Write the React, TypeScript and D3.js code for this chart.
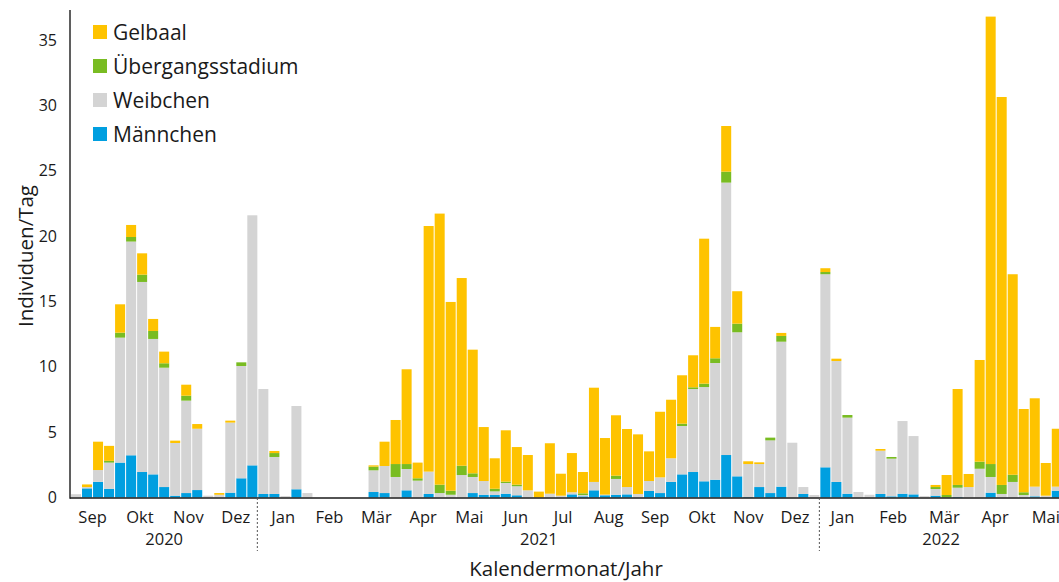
import React from "react";
import * as d3 from "d3";

// Weekly catch counts (individuals per day), one entry per week, Sep 2020 – Mai 2022
const maennchen = [
  0, 0.7, 1.2, 0.67, 2.67, 3.23, 1.95, 1.77, 0.8, 0.14,
  0.34, 0.57, 0, 0, 0.37, 1.47, 2.46, 0.27, 0.27, 0,
  0.63, 0, 0, 0, 0, 0, 0, 0.42, 0.34, 0,
  0.55, 0, 0.27, 0, 0, 0, 0.34, 0.21, 0.19, 0.29,
  0.17, 0, 0, 0, 0, 0.24, 0.09, 0.55, 0.17, 0.21,
  0.24, 0, 0.5, 0.34, 1.19, 1.77, 1.95, 1.24, 1.36, 3.25,
  1.62, 0.04, 0.8, 0.34, 0.83, 0, 0.27, 0, 2.31, 1.19,
  0.29, 0, 0, 0.27, 0.09, 0.29, 0.24, 0, 0.14, 0,
  0.04, 0, 0, 0.37, 0, 0, 0, 0.09, 0, 0.52,
];
const weibchen = [
  0.25, 0.1, 0.9, 2.0, 9.56, 16.35, 14.54, 10.36, 9.13, 4.03,
  7.07, 4.69, 0.14, 0.21, 5.36, 8.59, 19.13, 8.03, 2.83, 0.11,
  6.37, 0.34, 0, 0, 0, 0, 0, 1.66, 2.07, 1.57,
  1.63, 1.29, 1.71, 0.34, 0.21, 1.72, 1.23, 1.05, 0.28, 0.82,
  0.69, 0.55, 0, 0.29, 0.14, 0.16, 0.1, 0.64, 0.05, 1.21,
  0.56, 0.27, 0.76, 1.2, 1.81, 3.7, 6.35, 7.21, 8.93, 20.84,
  11.02, 2.52, 1.76, 4.03, 11.09, 4.19, 0.53, 0.19, 14.77, 9.25,
  5.82, 0.42, 0.21, 3.31, 2.88, 5.56, 4.46, 0.11, 0.51, 0,
  0.71, 0.8, 2.2, 1.2, 0.27, 1.19, 0.19, 0.74, 0.14, 0.31,
];
const uebergang = [
  0, 0, 0, 0.13, 0.38, 0.35, 0.56, 0.61, 0.34, 0,
  0.38, 0, 0, 0, 0, 0.28, 0, 0, 0.3, 0,
  0, 0, 0, 0, 0, 0, 0, 0.28, 0, 0.99,
  0.38, 0.18, 0, 0.64, 0.31, 0.71, 0.28, 0, 0.2, 0.1,
  0.12, 0, 0, 0, 0, 0, 0.13, 0, 0, 0.25,
  0, 0, 0, 0, 0, 0.18, 0.13, 0.26, 0.36, 0.84,
  0.66, 0, 0, 0.21, 0.44, 0, 0, 0, 0.17, 0,
  0.2, 0, 0, 0, 0.13, 0, 0, 0, 0.15, 0.19,
  0.21, 0, 0.54, 0.99, 0.69, 0.55, 0.21, 0, 0, 0,
];
const gelbaal = [
  0, 0.2, 2.17, 1.15, 2.17, 0.92, 1.63, 0.92, 0.89, 0.18,
  0.84, 0.36, 0, 0.13, 0.15, 0, 0, 0, 0.16, 0,
  0, 0, 0, 0, 0, 0, 0, 0.1, 1.86, 3.37,
  7.25, 1.2, 18.79, 20.74, 14.44, 14.36, 9.46, 4.13, 2.33, 3.93,
  2.88, 2.7, 0.45, 3.86, 1.68, 3.0, 1.63, 7.21, 4.33, 4.62,
  4.44, 4.56, 2.27, 5.02, 4.48, 3.7, 2.45, 11.09, 2.4, 3.49,
  2.48, 0.21, 0.13, 0, 0.23, 0, 0, 0, 0.29, 0.18,
  0, 0, 0, 0.13, 0, 0, 0, 0, 0.16, 1.53,
  7.34, 1.0, 7.78, 34.23, 29.68, 15.34, 6.37, 6.76, 2.5, 4.43,
];

// Series in stacking order (bottom to top)
const seriesKeys = ["maennchen", "weibchen", "uebergang", "gelbaal"];
const seriesNames: Record<string, string> = {
  maennchen: "Männchen",
  weibchen: "Weibchen",
  uebergang: "Übergangsstadium",
  gelbaal: "Gelbaal",
};
const seriesColors: Record<string, string> = {
  maennchen: "#009FE0",
  weibchen: "#D4D4D4",
  uebergang: "#79BC22",
  gelbaal: "#FEC300",
};
const legendOrder = ["gelbaal", "uebergang", "weibchen", "maennchen"];

// Month labels, positioned in week units along the bar axis
const monthLabels = [
  "Sep", "Okt", "Nov", "Dez",
  "Jan", "Feb", "Mär", "Apr", "Mai", "Jun", "Jul", "Aug", "Sep", "Okt", "Nov", "Dez",
  "Jan", "Feb", "Mär", "Apr", "Mai",
];
const monthWeekPos = [
  2.0, 6.3, 10.7, 15.0,
  19.3, 23.5, 27.75, 32.0, 36.2, 40.4, 44.7, 48.85, 53.05, 57.3, 61.5, 65.75,
  70.05, 74.65, 79.3, 83.9, 88.5,
];
// Year spans in week units
const yearLabels = ["2020", "2021", "2022"];
const yearStart = [0, 17, 68];
const yearEnd = [17, 68, 90];

const yTicks = [0, 5, 10, 15, 20, 25, 30, 35];

const W = 1059;
const H = 582;
const FONT = "'Open Sans', 'Noto Sans', sans-serif";

export default function App() {
  const n = gelbaal.length;
  const rows = d3.range(n).map((i) => ({
    maennchen: maennchen[i],
    weibchen: weibchen[i],
    uebergang: uebergang[i],
    gelbaal: gelbaal[i],
  }));
  const stacked = d3.stack<any>().keys(seriesKeys)(rows);

  const x = d3.scaleLinear().domain([0, 90]).range([70.5, 1062.3]);
  const y = d3.scaleLinear().domain([0, 35]).range([497.5, 40]);
  const axisY = 498;
  const axisX = 70;

  return (
    <div style={{ position: "fixed", left: 0, top: 0 }}>
      <svg width={W} height={H} style={{ display: "block", background: "#fff" }} fontFamily={FONT}>
        {/* stacked weekly bars */}
        {stacked.map((layer) => (
          <g key={layer.key} fill={seriesColors[layer.key]}>
            {layer.map((d, i) => {
              const h = y(d[0]) - y(d[1]);
              if (h <= 0) return null;
              return (
                <rect
                  key={i}
                  x={x(i) + 0.5}
                  width={x(i + 1) - x(i) - 1}
                  y={y(d[1])}
                  height={h}
                />
              );
            })}
          </g>
        ))}

        {/* axes */}
        <line x1={axisX} x2={W} y1={axisY} y2={axisY} stroke="#1a1a1a" strokeWidth={1.6} />
        <line x1={axisX} x2={axisX} y1={10} y2={axisY + 0.8} stroke="#1a1a1a" strokeWidth={1.4} />

        {yTicks.map((t) => (
          <text key={t} x={57} y={y(t)} dy="0.35em" textAnchor="end" fontSize={16} fill="#1a1a1a">
            {t}
          </text>
        ))}

        {monthLabels.map((m, i) => (
          <text key={i} x={x(monthWeekPos[i])} y={523} textAnchor="middle" fontSize={16.5} fill="#1a1a1a">
            {m}
          </text>
        ))}

        {yearLabels.map((yl, i) => (
          <text
            key={yl}
            x={(x(yearStart[i]) + x(yearEnd[i])) / 2}
            y={545}
            textAnchor="middle"
            fontSize={16.5}
            fill="#1a1a1a"
          >
            {yl}
          </text>
        ))}

        {/* year separators */}
        {yearStart.slice(1).map((w) => (
          <line
            key={w}
            x1={x(w) - 0.5}
            x2={x(w) - 0.5}
            y1={axisY}
            y2={551}
            stroke="#555"
            strokeWidth={1}
            strokeDasharray="2,2"
          />
        ))}

        {/* axis titles */}
        <text x={566} y={576} textAnchor="middle" fontSize={20.5} fill="#1a1a1a">
          Kalendermonat/Jahr
        </text>
        <text
          transform={`translate(33,${256}) rotate(-90)`}
          textAnchor="middle"
          fontSize={20.5}
          fill="#1a1a1a"
        >
          Individuen/Tag
        </text>

        {/* legend */}
        {legendOrder.map((k, i) => (
          <g key={k} transform={`translate(93,${25 + i * 34})`}>
            <rect width={14} height={14} fill={seriesColors[k]} />
            <text x={20} y={7} dy="0.36em" fontSize={21} fill="#1a1a1a">
              {seriesNames[k]}
            </text>
          </g>
        ))}
      </svg>
    </div>
  );
}
